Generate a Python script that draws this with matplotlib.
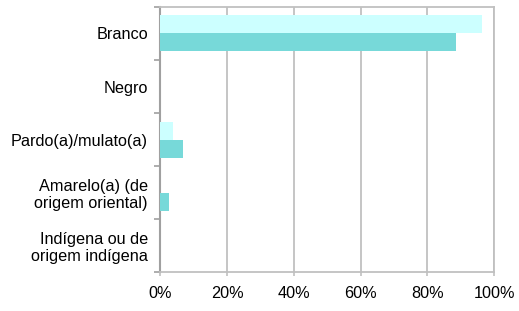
import numpy as np
import matplotlib.pyplot as plt
from matplotlib.ticker import FixedLocator, PercentFormatter

plt.rcParams['font.family'] = ['Liberation Sans', 'DejaVu Sans']

categories = ['Branco', 'Negro', 'Pardo(a)/mulato(a)',
              'Amarelo(a) (de\norigem oriental)', 'Indígena ou de\norigem indígena']
serie_clara = [96.5, 0.0, 3.8, 0.0, 0.0]
serie_escura = [88.7, 0.0, 6.8, 2.6, 0.0]
xticks = [0, 20, 40, 60, 80, 100]

fig = plt.figure(figsize=(5.19, 3.11), dpi=100)
ax = fig.add_axes([0.309, 0.124, 0.643, 0.854])

y = np.arange(len(categories))
h = 0.34
ax.barh(y - h / 2, serie_clara, height=h, color='#CCFFFF', zorder=3)
ax.barh(y + h / 2, serie_escura, height=h, color='#77D9D9', zorder=3)

ax.set_xlim(0, 100)
ax.set_ylim(len(categories) - 0.5, -0.5)
ax.set_xticks(xticks)
ax.xaxis.set_major_formatter(PercentFormatter(decimals=0))
ax.grid(axis='x', color='#C0C0C0', linewidth=1.3, zorder=0)

ax.set_yticks(y)
ax.set_yticklabels(categories, ha='right', linespacing=1.15)
ax.yaxis.set_minor_locator(FixedLocator(np.arange(-0.5, len(categories), 1)))
ax.tick_params(axis='y', which='major', length=0, pad=9, labelsize=11.7)
ax.tick_params(axis='y', which='minor', length=4, width=1.2, color='#A0A0A0')
ax.tick_params(axis='x', length=3, width=1.2, color='#C0C0C0', pad=7, labelsize=11.7)

for side in ['top', 'right', 'bottom']:
    ax.spines[side].set_color('#C0C0C0')
    ax.spines[side].set_linewidth(1.3)
ax.spines['left'].set_color('#A0A0A0')
ax.spines['left'].set_linewidth(1.5)

fig.savefig('out.png', dpi=100)
